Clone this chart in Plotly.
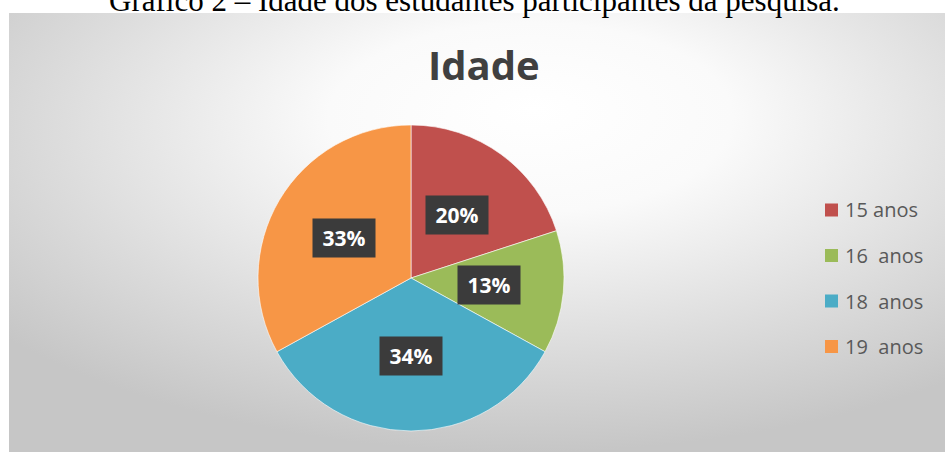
import math, base64
import plotly.graph_objects as go

# ---- data ----
categories = ["15 anos", "16\u00a0 anos", "18\u00a0 anos", "19\u00a0 anos"]
values = [20, 13, 34, 33]
colors = ["#C0504D", "#9BBB59", "#4BACC6", "#F79646"]
title_text = "Idade"
caption_text = "Gráfico 2 – Idade dos estudantes participantes da pesquisa."

W, H = 945, 452

# pie geometry (pixels)
cx, cy, R = 411, 278, 153
dom_x = [(cx - R) / W, (cx + R) / W]
dom_y = [1 - (cy + R) / H, 1 - (cy - R) / H]

fig = go.Figure(go.Pie(
    labels=categories, values=values, sort=False, direction="clockwise", rotation=0,
    marker=dict(colors=colors, line=dict(color="rgba(255,255,255,0.6)", width=1)),
    textinfo="none", hoverinfo="label+percent", showlegend=False,
    domain=dict(x=dom_x, y=dom_y),
))

# background gradient for chart area
svg = '''<svg xmlns="http://www.w3.org/2000/svg" width="936" height="440" viewBox="0 0 936 440" preserveAspectRatio="none">
<defs><radialGradient id="g" cx="55%" cy="28%" r="72%" fx="56%" fy="22%">
<stop offset="0" stop-color="#ffffff"/><stop offset="0.3" stop-color="#fafafa"/>
<stop offset="0.7" stop-color="#dcdcdc"/><stop offset="1" stop-color="#c6c6c6"/></radialGradient></defs>
<rect x="0" y="0" width="936" height="440" fill="url(#g)"/></svg>'''
src = "data:image/svg+xml;base64," + base64.b64encode(svg.encode()).decode()
fig.add_layout_image(dict(source=src, xref="paper", yref="paper", x=9 / W, y=1 - 13 / H,
                          sizex=936 / W, sizey=439 / H, xanchor="left", yanchor="top",
                          sizing="stretch", layer="below"))

annotations = []
# percentage labels in dark boxes, positioned from the data angles
total = sum(values)
cum = 0
for v in values:
    mid = (cum + v / 2) / total * 2 * math.pi
    cum += v
    r = 0.51 * R
    px = cx + r * math.sin(mid)
    py = cy - r * math.cos(mid)
    annotations.append(dict(
        x=px / W, y=1 - py / H, xref="paper", yref="paper", showarrow=False,
        text=f"<b>{round(v / total * 100)}%</b>",
        font=dict(family="Open Sans", size=21, color="white"),
        bgcolor="#3b3b3b", width=54, height=30, borderpad=4, xanchor="center", yanchor="middle"))

# title
annotations.append(dict(x=484 / W, y=1 - 64 / H, xref="paper", yref="paper", showarrow=False,
                        text=f"<b>{title_text}</b>", font=dict(family="Open Sans", size=40, color="#404040"),
                        xanchor="center", yanchor="middle"))
# caption (partially cut at the top, as in the reference)
annotations.append(dict(x=474 / W, y=1 - 1 / H, xref="paper", yref="paper", showarrow=False,
                        text=caption_text, font=dict(family="Liberation Serif", size=31, color="black"),
                        xanchor="center", yanchor="middle"))

# manual legend
shapes = []
leg_x, leg_y0, leg_dy = 825, 210, 45.5
for i, (lab, col) in enumerate(zip(categories, colors)):
    yc = leg_y0 + i * leg_dy
    shapes.append(dict(type="rect", xref="paper", yref="paper",
                       x0=leg_x / W, x1=(leg_x + 13) / W, y0=1 - (yc - 6.5) / H, y1=1 - (yc + 6.5) / H,
                       fillcolor=col, line=dict(width=0)))
    annotations.append(dict(x=(leg_x + 18) / W, y=1 - yc / H, xref="paper", yref="paper", showarrow=False,
                            text=lab, font=dict(family="Open Sans", size=20, color="#595959"),
                            xanchor="left", yanchor="middle"))

fig.update_layout(width=W, height=H, margin=dict(l=0, r=0, t=0, b=0),
                  paper_bgcolor="white", plot_bgcolor="white",
                  annotations=annotations, shapes=shapes)
fig.write_html("out.html", config={"displayModeBar": False},
               post_script="document.body.style.margin='0';")
